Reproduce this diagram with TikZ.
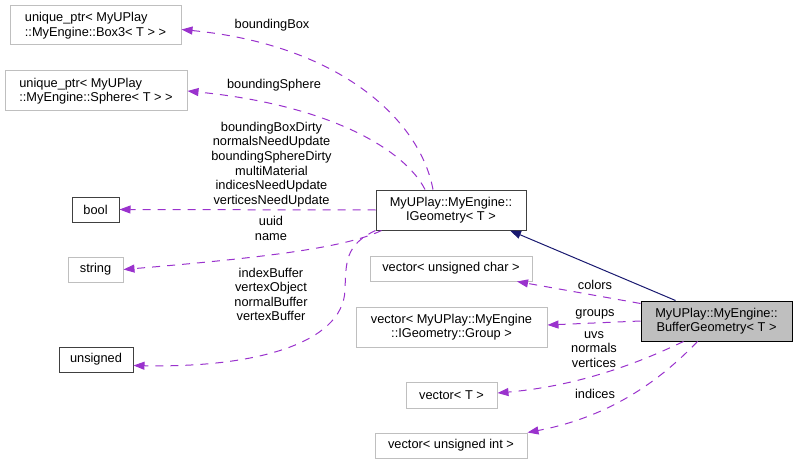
\documentclass[tikz,border=0pt]{standalone}
\usepackage{fontspec}
\setmainfont{Liberation Sans}
\usepackage{xcolor}
\usepackage{tikz}
\usetikzlibrary{arrows.meta,positioning,calc}
\definecolor{edgepurple}{HTML}{9A32CD}
\definecolor{inheritnavy}{HTML}{191970}
\definecolor{boxgray}{HTML}{BFBFBF}
\definecolor{boxdark}{HTML}{404040}

\begin{document}
\begin{tikzpicture}[x=1pt, y=-1pt,
    every node/.style={font=\fontsize{12.8}{14.6}\selectfont, inner sep=1pt},
    classbox/.style={rectangle, draw=boxgray, line width=1pt, align=center, fill=white},
    docbox/.style={classbox, draw=boxdark},
    member/.style={draw=edgepurple, line width=1pt, dash pattern=on 8pt off 7pt, -{Triangle[length=11pt,width=8pt]}},
    inherit/.style={draw=inheritnavy, line width=1pt, -{Triangle[length=11pt,width=8pt]}},
    memberlabel/.style={align=center}]
    \useasboundingbox (0,0) rectangle (797,465);

    \node[classbox, align=left, minimum width=171pt, minimum height=39pt] (box3) at (95.5,25.5) {unique\_ptr< MyUPlay\\::MyEngine::Box3< T > >};
    \node[classbox, align=left, minimum width=182pt, minimum height=40pt] (sphere) at (96,91) {unique\_ptr< MyUPlay\\::MyEngine::Sphere< T > >};
    \node[docbox, minimum width=47pt, minimum height=25pt] (bool) at (95.5,209.5) {bool};
    \node[classbox, minimum width=55pt, minimum height=25pt] (string) at (95.5,269.5) {string};
    \node[docbox, minimum width=74pt, minimum height=25pt] (unsigned) at (96,359.5) {unsigned};
    \node[docbox, minimum width=150pt, minimum height=40pt] (igeom) at (451,210) {MyUPlay::MyEngine::\\IGeometry< T >};
    \node[classbox, minimum width=162pt, minimum height=25pt] (vchar) at (451,268.5) {vector< unsigned char >};
    \node[classbox, minimum width=191pt, minimum height=40pt] (vgroup) at (451.5,327) {vector< MyUPlay::MyEngine\\::IGeometry::Group >};
    \node[docbox, draw=black, fill=boxgray, minimum width=151pt, minimum height=40pt] (buffer) at (716.5,321) {MyUPlay::MyEngine::\\BufferGeometry< T >};
    \node[classbox, minimum width=91pt, minimum height=26pt] (vt) at (451.5,395) {vector< T >};
    \node[classbox, minimum width=152pt, minimum height=25pt] (vint) at (451,445.5) {vector< unsigned int >};

    \draw[member] ([xshift=-18pt]igeom.north) .. controls (420,120) and (340,45) .. ([yshift=-4pt]box3.east);
    \draw[member] ([xshift=-26pt]igeom.north) .. controls (405,150) and (330,105) .. (sphere.east);
    \draw[member] (igeom.west) -- (bool.east);
    \draw[member] ([xshift=6pt]igeom.south west) .. controls (345,248) and (260,258) .. (string.east);
    \draw[member] (igeom.south west) .. controls (345,245) and (346,262) .. (345,290) .. controls (343,345) and (250,368) .. ([yshift=-6pt]unsigned.east);
    \draw[inherit] ([xshift=-41pt]buffer.north) -- ([xshift=59pt]igeom.south);
    \draw[member] ([yshift=-3pt]buffer.north west) -- ([xshift=66pt]vchar.south);
    \draw[member] (buffer.west) -- ([yshift=2pt]vgroup.east);
    \draw[member] ([xshift=-33pt]buffer.south) .. controls (655,355) and (590,385) .. ([yshift=2pt]vt.east);
    \draw[member] ([xshift=-19pt]buffer.south) .. controls (670,370) and (620,415) .. (vint.north east);

    \node[memberlabel] (lbox3) at (272,25) {boundingBox};
    \node[memberlabel] (lsphere) at (274,85) {boundingSphere};
    \node[memberlabel] (lbool) at (271.5,164.5) {boundingBoxDirty\\normalsNeedUpdate\\boundingSphereDirty\\multiMaterial\\indicesNeedUpdate\\verticesNeedUpdate};
    \node[memberlabel] (lstring) at (271,228.5) {uuid\\name};
    \node[memberlabel] (lunsigned) at (271,294.5) {indexBuffer\\vertexObject\\normalBuffer\\vertexBuffer};
    \node[memberlabel] (lcolors) at (595,285) {colors};
    \node[memberlabel] (lgroups) at (595,314) {groups};
    \node[memberlabel] (lvt) at (594,349.5) {uvs\\normals\\vertices};
    \node[memberlabel] (lvint) at (595,394) {indices};
\end{tikzpicture}
\end{document}
